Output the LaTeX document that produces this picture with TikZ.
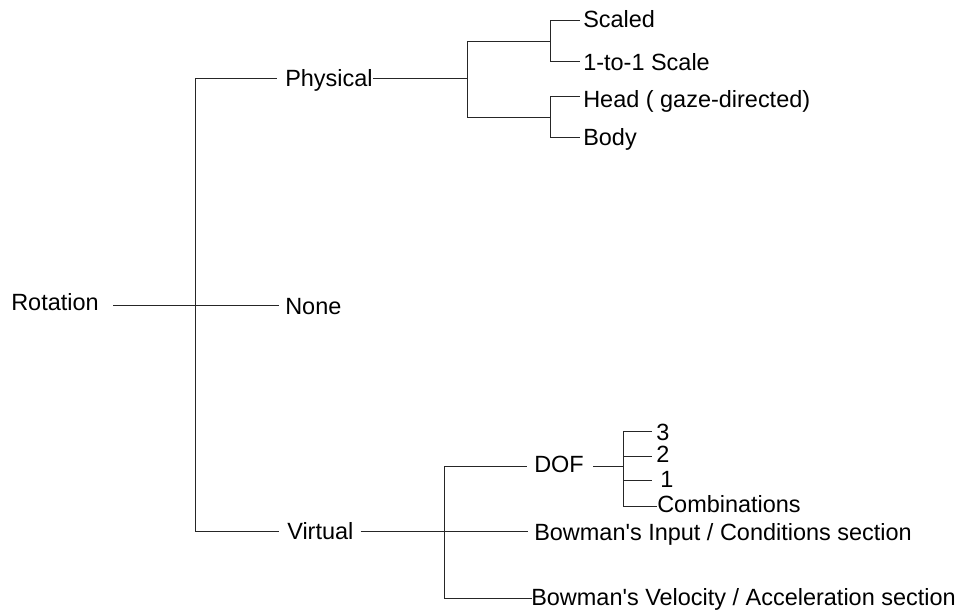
\documentclass[tikz,border=0pt]{standalone}
\usepackage{fontspec}
\setmainfont{Liberation Sans}[Ligatures=TeXOff]
\usetikzlibrary{calc}
\begin{document}
\begin{tikzpicture}[x=0.75pt,y=-0.75pt,
  lbl/.style={anchor=base west, inner sep=0pt, font=\fontsize{17.6}{21}\selectfont},
  ln/.style={line width=0.75pt, draw=black!85}]
\useasboundingbox[fill=white] (0,0) rectangle (960,610);
% labels
\node[lbl] (rot) at (11,310) {Rotation};
\node[lbl] (phys) at (285,87) {Physical};
\node[lbl] (none) at (285,314) {None};
\node[lbl] (virt) at (287,539) {Virtual};
\node[lbl] (scaled) at (583,28) {Scaled};
\node[lbl] (one) at (583,70) {1-to-1 Scale};
\node[lbl] (head) at (583,108) {Head ( gaze-directed)};
\node[lbl] (body) at (583,145) {Body};
\node[lbl] (dof) at (534,472) {DOF};
\node[lbl] (input) at (534,540) {Bowman's Input / Conditions section};
\node[lbl] (vel) at (531,605) {Bowman's Velocity / Acceleration section};
\node[lbl] (d3) at (656,440) {3};
\node[lbl] (d2) at (656,462) {2};
\node[lbl] (d1) at (660,487) {1};
\node[lbl] (comb) at (657,512) {Combinations};
% junctions
\coordinate (t1) at (195,79);
\coordinate (t2) at (195,305);
\coordinate (t3) at (195,531);
\coordinate (pj) at (467,79);
\coordinate (pa) at (467,42);
\coordinate (pb) at (467,117);
\coordinate (sa) at (550,42);
\coordinate (sa1) at (550,21);
\coordinate (sa2) at (550,62);
\coordinate (sb) at (550,117);
\coordinate (sb1) at (550,97);
\coordinate (sb2) at (550,137);
\coordinate (vj) at (444,531);
\coordinate (va) at (444,466);
\coordinate (vb) at (444,598);
\coordinate (dj) at (623,466);
\coordinate (d3j) at (623,431);
\coordinate (d2j) at (623,456);
\coordinate (d1j) at (623,480);
\coordinate (dcj) at (623,506);
% root
\draw[ln] (t1) -- (t3);
\draw[ln] (t2) -- ($(t2 -| rot.east)+(14,0)$);
\draw[ln] (t1) -- ($(t1 -| phys.west)+(-8,0)$);
\draw[ln] (t2) -- ($(t2 -| none.west)+(-6,0)$);
\draw[ln] (t3) -- ($(t3 -| virt.west)+(-8,0)$);
% physical
\draw[ln] ($(pj -| phys.east)+(0,0)$) -- (pj);
\draw[ln] (pa) -- (pb);
\draw[ln] (pa) -- (sa);
\draw[ln] (pb) -- (sb);
\draw[ln] (sa1) -- (sa2);
\draw[ln] (sb1) -- (sb2);
\draw[ln] (sa1) -- ($(sa1 -| scaled.west)+(-3,0)$);
\draw[ln] (sa2) -- ($(sa2 -| one.west)+(-3,0)$);
\draw[ln] (sb1) -- ($(sb1 -| head.west)+(-3,0)$);
\draw[ln] (sb2) -- ($(sb2 -| body.west)+(-3,0)$);
% virtual
\draw[ln] ($(vj -| virt.east)+(7,0)$) -- ($(vj -| input.west)+(-6,0)$);
\draw[ln] (va) -- (vb);
\draw[ln] (va) -- ($(va -| dof.west)+(-7,0)$);
\draw[ln] (vb) -- ($(vb -| vel.west)+(1,0)$);
% dof
\draw[ln] ($(dj -| dof.east)+(9,0)$) -- (dj);
\draw[ln] (d3j) -- (dcj);
\draw[ln] (d3j) -- ($(d3j -| d3.west)+(-4,0)$);
\draw[ln] (d2j) -- ($(d2j -| d2.west)+(-4,0)$);
\draw[ln] (d1j) -- ($(d1j -| d1.west)+(-8,0)$);
\draw[ln] (dcj) -- ($(dcj -| comb.west)+(0,0)$);
\end{tikzpicture}
\end{document}
